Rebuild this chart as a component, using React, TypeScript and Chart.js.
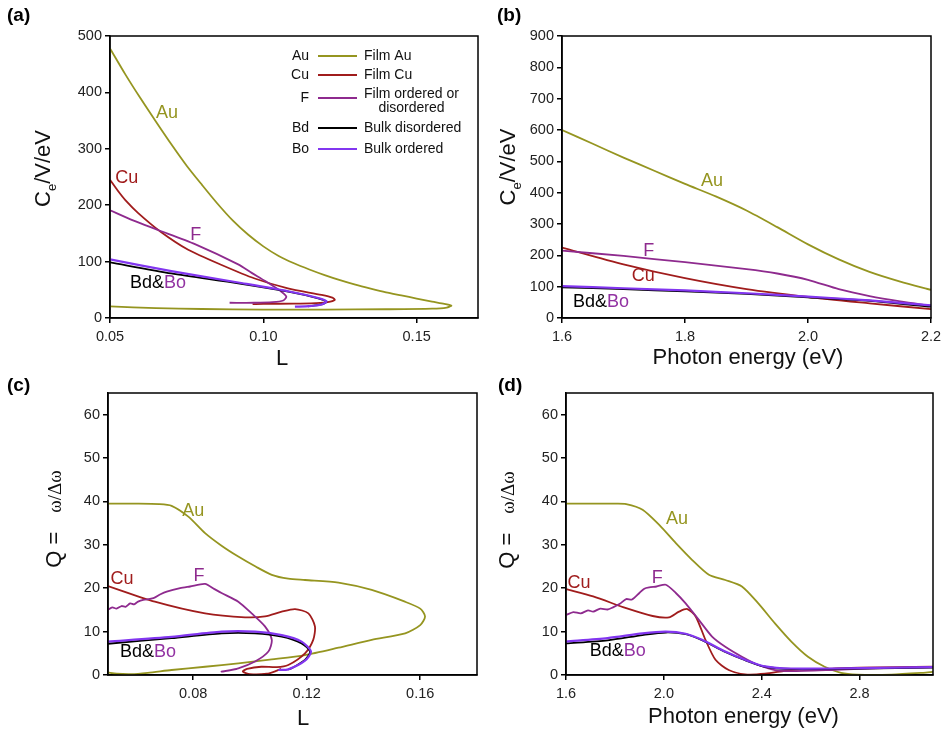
import React, { useEffect, useRef } from "react";
import { Chart, registerables } from "chart.js";

Chart.register(...registerables);

const FONT = '"Liberation Sans", Arial, Helvetica, sans-serif';
const SERIF = '"Liberation Serif", "Times New Roman", serif';

const COL_AU = "#959520";
const COL_CU = "#a01c1c";
const COL_F = "#8e2a8e";
const COL_BD = "#000000";
const COL_BO = "#8236f0";
const COL_BO_TEXT = "#9232a2";

// ---------------- Panel (a): C_e/V/eV vs L ----------------
const aXTicks = [0.05, 0.1, 0.15];
const aYTicks = [0, 100, 200, 300, 400, 500];
const aAuL = [0.05, 0.055, 0.06, 0.065, 0.07, 0.075, 0.08, 0.085, 0.09, 0.095, 0.1, 0.105, 0.11, 0.115, 0.12, 0.125, 0.13, 0.135, 0.14, 0.145, 0.15, 0.155, 0.159, 0.1613, 0.1598, 0.155, 0.14, 0.12, 0.1, 0.08, 0.065, 0.05];
const aAuC = [478, 432, 389, 348, 308, 270, 236, 203, 173, 148, 127, 110, 97, 86, 76, 67, 59, 52, 45.5, 40, 34.5, 29, 25, 22, 18.5, 16.5, 15.5, 15, 15, 16, 17.5, 20.5];
const aCuL = [0.05, 0.0525, 0.055, 0.0592, 0.0665, 0.0755, 0.0864, 0.0972, 0.108, 0.119, 0.1225, 0.1233, 0.121, 0.117, 0.11, 0.1, 0.0965];
const aCuC = [245, 226, 209, 186, 153, 121, 94, 70, 52.6, 40.8, 36, 32, 28, 26.5, 25.5, 25, 24.5];
const aFL = [0.05, 0.0575, 0.0657, 0.0777, 0.0918, 0.0962, 0.1005, 0.1059, 0.1075, 0.1065, 0.103, 0.097, 0.089];
const aFC = [191, 173, 156, 131, 95, 80, 66, 46.7, 38, 31, 28, 27, 27];
const aBdL = [0.05, 0.07, 0.0918, 0.1081, 0.1179, 0.1206, 0.119, 0.1145];
const aBdC = [98.7, 79, 61.5, 46.7, 35, 29, 24, 20.5];
const aBoL = [0.05, 0.07, 0.0918, 0.1081, 0.1179, 0.1206, 0.119, 0.115, 0.1103];
const aBoC = [104, 83, 63, 47.5, 35.5, 29.5, 24, 21, 20];

// ---------------- Panel (b): C_e/V/eV vs photon energy ----------------
const bXTicks = [1.6, 1.8, 2.0, 2.2];
const bYTicks = [0, 100, 200, 300, 400, 500, 600, 700, 800, 900];
const bAuE = [1.6, 1.65, 1.7, 1.75, 1.8, 1.85, 1.9, 1.95, 2.0, 2.05, 2.1, 2.15, 2.2];
const bAuC = [600, 556, 512, 470, 428, 388, 343, 290, 235, 187, 147, 116, 90];
const bCuE = [1.6, 1.7, 1.8, 1.9, 2.0, 2.1, 2.2];
const bCuC = [225, 171, 127, 92, 67, 47, 28];
const bFE = [1.6, 1.7, 1.8, 1.9, 1.95, 2.0, 2.05, 2.1, 2.15, 2.2];
const bFC = [215, 198, 178, 156, 142, 122, 92, 70, 53, 39];
const bBdE = [1.6, 1.7, 1.8, 1.9, 2.0, 2.1, 2.2];
const bBdC = [98, 92, 85, 77, 66, 55, 36];
const bBoE = [1.6, 1.7, 1.8, 1.9, 2.0, 2.1, 2.2];
const bBoC = [102, 95, 88, 79, 68, 56, 40];

// ---------------- Panel (c): Q vs L ----------------
const cXTicks = [0.08, 0.12, 0.16];
const cYTicks = [0, 10, 20, 30, 40, 50, 60];
const cAuL = [0.05, 0.06, 0.068, 0.0724, 0.0783, 0.0842, 0.09, 0.0959, 0.102, 0.1077, 0.1135, 0.1194, 0.1312, 0.1429, 0.1546, 0.16, 0.1617, 0.16, 0.1547, 0.1429, 0.1312, 0.1194, 0.1077, 0.0959, 0.0842, 0.0724, 0.064, 0.0583, 0.053, 0.05];
const cAuQ = [39.5, 39.5, 39.4, 39.0, 36.5, 32.7, 29.8, 27.3, 25.0, 23.1, 22.2, 21.9, 21.3, 19.6, 16.9, 15.3, 13.5, 11.5, 9.6, 8.1, 6.3, 4.6, 3.6, 2.7, 1.9, 1.15, 0.5, 0.2, 0.3, 0.6];
const cCuL = [0.05, 0.0665, 0.0842, 0.0983, 0.1053, 0.1112, 0.1159, 0.1206, 0.1229, 0.1223, 0.1194, 0.1135, 0.1095, 0.104, 0.099, 0.0975, 0.1, 0.106, 0.1095, 0.111];
const cCuQ = [20.5, 16.9, 14.2, 13.3, 13.5, 14.6, 15.2, 14.2, 11.2, 8.1, 5.0, 2.3, 1.8, 1.9, 1.4, 0.8, 0.2, 0.3, 1.0, 1.4];
const cFL = [0.05, 0.0515, 0.053, 0.0548, 0.0562, 0.0578, 0.0592, 0.0606, 0.0624, 0.066, 0.0685, 0.0707, 0.0754, 0.0789, 0.0842, 0.0875, 0.09, 0.0959, 0.1006, 0.1053, 0.1077, 0.1065, 0.1018, 0.0959, 0.09, 0.0925, 0.0955];
const cFQ = [15.0, 15.6, 15.3, 15.9, 15.7, 16.5, 16.3, 16.9, 17.3, 17.7, 18.6, 19.2, 20.0, 20.4, 21.0, 19.8, 18.9, 16.9, 14.2, 11.2, 8.1, 5.4, 3.1, 1.55, 0.8, 1.0, 1.4];
const cBdL = [0.05, 0.0724, 0.09, 0.1018, 0.1112, 0.1182, 0.1212, 0.1194, 0.1147, 0.1135];
const cBdQ = [7.2, 8.5, 9.6, 9.6, 8.85, 7.3, 5.4, 3.5, 1.55, 1.3];
const cBoL = [0.05, 0.0724, 0.09, 0.1018, 0.1112, 0.1182, 0.1215, 0.1194, 0.1135, 0.11];
const cBoQ = [7.7, 8.8, 10.0, 10.0, 9.2, 7.7, 5.4, 3.3, 1.3, 1.15];

// ---------------- Panel (d): Q vs photon energy ----------------
const dXTicks = [1.6, 2.0, 2.4, 2.8];
const dYTicks = [0, 10, 20, 30, 40, 50, 60];
const dAuE = [1.6, 1.7, 1.8, 1.846, 1.913, 1.981, 2.049, 2.116, 2.184, 2.251, 2.319, 2.386, 2.454, 2.521, 2.589, 2.657, 2.724, 2.79, 2.93, 3.06, 3.1];
const dAuQ = [39.5, 39.5, 39.5, 39.4, 38.1, 34.6, 30.4, 26.5, 23.1, 21.9, 20.4, 16.5, 11.9, 7.7, 4.2, 1.9, 0.5, 0.1, 0.1, 0.5, 0.7];
const dCuE = [1.6, 1.711, 1.846, 1.954, 2.021, 2.062, 2.096, 2.13, 2.17, 2.211, 2.265, 2.332, 2.413, 2.52, 2.657, 2.8, 3.1];
const dCuQ = [19.8, 18.1, 15.4, 13.6, 13.3, 14.6, 15.2, 13.5, 8.1, 3.5, 1.15, 0.15, 0.3, 1.15, 1.4, 1.7, 1.9];
const dFE = [1.6, 1.63, 1.66, 1.69, 1.711, 1.74, 1.77, 1.792, 1.82, 1.846, 1.87, 1.9, 1.92, 1.94, 1.97, 2.008, 2.049, 2.089, 2.143, 2.197, 2.251, 2.319, 2.386, 2.454, 2.52, 2.7, 2.9, 3.1];
const dFQ = [13.8, 14.5, 14.2, 14.9, 14.6, 15.3, 15.1, 15.6, 16.4, 17.5, 17.4, 18.9, 19.9, 20.2, 20.4, 20.8, 18.9, 16.5, 12.7, 8.85, 6.5, 4.2, 2.3, 1.15, 0.9, 1.2, 1.6, 1.8];
const dBdE = [1.6, 1.77, 1.913, 2.008, 2.089, 2.156, 2.251, 2.332, 2.413, 2.52, 2.8, 3.1];
const dBdQ = [7.3, 8.0, 9.2, 9.8, 9.4, 8.0, 5.3, 3.4, 1.9, 1.4, 1.5, 1.7];
const dBoE = [1.6, 1.77, 1.913, 2.008, 2.089, 2.156, 2.251, 2.332, 2.413, 2.52, 2.8, 3.1];
const dBoQ = [7.7, 8.5, 9.6, 10.0, 9.5, 8.1, 5.4, 3.5, 2.0, 1.5, 1.6, 1.8];

// ---------------- Legend texts (panel a) ----------------
const legendKeys = ["Au", "Cu", "F", "Bd", "Bo"];
const legendTexts = [["Film Au"], ["Film Cu"], ["Film ordered or", "disordered"], ["Bulk disordered"], ["Bulk ordered"]];
const legendColors = [COL_AU, COL_CU, COL_F, COL_BD, COL_BO];

type Series = { name: string; xs: number[]; ys: number[]; color: string; width: number };
type Label = { parts: { t: string; c: string }[]; x: number; y: number; align: CanvasTextAlign };
type TitlePart = { t: string; font: string; dy?: number; gap?: number };

type PanelCfg = {
  left: number; top: number; width: number; height: number;
  area: { left: number; top: number; right: number; bottom: number };
  xMin: number; xMax: number; xTicks: number[]; xDec: number;
  yMin: number; yMax: number; yTicks: number[];
  series: Series[];
  labels: Label[];
  letter: string; letterPos: [number, number];
  xTitle: string; xTitlePos: [number, number];
  yTitle: TitlePart[]; yTitlePos: [number, number];
  legend?: boolean;
};

const makeSeries = (xs: number[][], ys: number[][]): Series[] => {
  // order: Bo first so it is drawn on top
  const names = ["Bo", "Bd", "F", "Cu", "Au"];
  const colors = [COL_BO, COL_BD, COL_F, COL_CU, COL_AU];
  const widths = [2.2, 1.8, 1.8, 1.8, 1.8];
  return names.map((n, i) => ({ name: n, xs: xs[i], ys: ys[i], color: colors[i], width: widths[i] }));
};

const lbl = (t: string, c: string, x: number, y: number): Label => ({ parts: [{ t, c }], x, y, align: "center" });
const bdbo = (x: number, y: number): Label => ({ parts: [{ t: "Bd&", c: "#000" }, { t: "Bo", c: COL_BO_TEXT }], x, y, align: "left" });

const ceTitle: TitlePart[] = [
  { t: "C", font: `22px ${FONT}` },
  { t: "e", font: `13px ${FONT}`, dy: 6 },
  { t: "/V/eV", font: `22px ${FONT}` },
];
const qTitle: TitlePart[] = [
  { t: "Q =", font: `22px ${FONT}` },
  { t: "ω/Δω", font: `19px ${SERIF}`, gap: 19 },
];

const panels: PanelCfg[] = [
  {
    left: 0, top: 0, width: 480, height: 370,
    area: { left: 110, top: 36, right: 478, bottom: 318 },
    xMin: 0.05, xMax: 0.17, xTicks: aXTicks, xDec: 2,
    yMin: 0, yMax: 500, yTicks: aYTicks,
    series: makeSeries([aBoL, aBdL, aFL, aCuL, aAuL], [aBoC, aBdC, aFC, aCuC, aAuC]),
    labels: [lbl("Au", COL_AU, 0.0686, 363), lbl("Cu", COL_CU, 0.0555, 248), lbl("F", COL_F, 0.078, 147), bdbo(0.0565, 62)],
    letter: "(a)", letterPos: [7, 21],
    xTitle: "L", xTitlePos: [282, 365],
    yTitle: ceTitle, yTitlePos: [50, 168.5],
    legend: true,
  },
  {
    left: 480, top: 0, width: 462, height: 370,
    area: { left: 82, top: 36, right: 451, bottom: 318 },
    xMin: 1.6, xMax: 2.2, xTicks: bXTicks, xDec: 1,
    yMin: 0, yMax: 900, yTicks: bYTicks,
    series: makeSeries([bBoE, bBdE, bFE, bCuE, bAuE], [bBoC, bBdC, bFC, bCuC, bAuC]),
    labels: [lbl("Au", COL_AU, 1.844, 437), lbl("F", COL_F, 1.741, 214), lbl("Cu", COL_CU, 1.732, 134), bdbo(1.618, 51)],
    letter: "(b)", letterPos: [17, 21],
    xTitle: "Photon energy (eV)", xTitlePos: [268, 364],
    yTitle: ceTitle, yTitlePos: [35, 167],
  },
  {
    left: 0, top: 370, width: 480, height: 363,
    area: { left: 108, top: 23, right: 477, bottom: 305 },
    xMin: 0.05, xMax: 0.18, xTicks: cXTicks, xDec: 2,
    yMin: 0, yMax: 65, yTicks: cYTicks,
    series: makeSeries([cBoL, cBdL, cFL, cCuL, cAuL], [cBoQ, cBdQ, cFQ, cCuQ, cAuQ]),
    labels: [lbl("Au", COL_AU, 0.08, 37.8), lbl("Cu", COL_CU, 0.0549, 22.2), lbl("F", COL_F, 0.0821, 22.8), bdbo(0.0542, 5.3)],
    letter: "(c)", letterPos: [7, 21],
    xTitle: "L", xTitlePos: [303, 355],
    yTitle: qTitle, yTitlePos: [61, 149],
  },
  {
    left: 480, top: 370, width: 462, height: 363,
    area: { left: 86, top: 23, right: 453, bottom: 305 },
    xMin: 1.6, xMax: 3.1, xTicks: dXTicks, xDec: 1,
    yMin: 0, yMax: 65, yTicks: dYTicks,
    series: makeSeries([dBoE, dBdE, dFE, dCuE, dAuE], [dBoQ, dBdQ, dFQ, dCuQ, dAuQ]),
    labels: [lbl("Au", COL_AU, 2.054, 36), lbl("Cu", COL_CU, 1.653, 21.2), lbl("F", COL_F, 1.973, 22.4), bdbo(1.697, 5.5)],
    letter: "(d)", letterPos: [18, 21],
    xTitle: "Photon energy (eV)", xTitlePos: [263.5, 353],
    yTitle: qTitle, yTitlePos: [34, 150],
  },
];

function decorPlugin(cfg: PanelCfg) {
  return {
    id: "decor",
    afterDraw(chart: any) {
      const ctx: CanvasRenderingContext2D = chart.ctx;
      const a = chart.chartArea;
      ctx.save();
      // frame
      ctx.strokeStyle = "#000";
      ctx.lineWidth = 1.5;
      ctx.strokeRect(a.left, a.top, a.right - a.left, a.bottom - a.top);
      // panel letter
      ctx.fillStyle = "#000";
      ctx.font = `bold 19px ${FONT}`;
      ctx.textAlign = "left";
      ctx.textBaseline = "alphabetic";
      ctx.fillText(cfg.letter, cfg.letterPos[0], cfg.letterPos[1]);
      // x title
      ctx.font = `22px ${FONT}`;
      ctx.textAlign = "center";
      ctx.fillStyle = "#111";
      ctx.fillText(cfg.xTitle, cfg.xTitlePos[0], cfg.xTitlePos[1]);
      // y title (rotated, mixed fonts)
      ctx.save();
      ctx.translate(cfg.yTitlePos[0], cfg.yTitlePos[1]);
      ctx.rotate(-Math.PI / 2);
      ctx.textAlign = "left";
      let total = 0;
      const widths = cfg.yTitle.map((p) => {
        ctx.font = p.font;
        const w = ctx.measureText(p.t).width;
        total += w + (p.gap || 0);
        return w;
      });
      let x = -total / 2;
      cfg.yTitle.forEach((p, i) => {
        x += p.gap || 0;
        ctx.font = p.font;
        ctx.fillText(p.t, x, p.dy || 0);
        x += widths[i];
      });
      ctx.restore();
      // curve labels
      const xs = chart.scales.x;
      const ys = chart.scales.y;
      ctx.font = `18px ${FONT}`;
      ctx.textBaseline = "middle";
      for (const lab of cfg.labels) {
        const px = xs.getPixelForValue(lab.x);
        const py = ys.getPixelForValue(lab.y);
        const full = lab.parts.map((p) => p.t).join("");
        const fw = ctx.measureText(full).width;
        let cx = lab.align === "center" ? px - fw / 2 : px;
        ctx.textAlign = "left";
        for (const p of lab.parts) {
          ctx.fillStyle = p.c;
          ctx.fillText(p.t, cx, py);
          cx += ctx.measureText(p.t).width;
        }
      }
      // legend
      if (cfg.legend) {
        const rowsY = [56, 75, 98, 128, 149];
        ctx.font = `14px ${FONT}`;
        legendKeys.forEach((k, i) => {
          const y = rowsY[i];
          ctx.fillStyle = "#111";
          ctx.textAlign = "right";
          ctx.fillText(k, 309, y);
          ctx.strokeStyle = legendColors[i];
          ctx.lineWidth = 2;
          ctx.beginPath();
          ctx.moveTo(318, y);
          ctx.lineTo(357, y);
          ctx.stroke();
          ctx.textAlign = "left";
          const lines = legendTexts[i];
          if (lines.length === 1) {
            ctx.fillText(lines[0], 364, y);
          } else {
            const w1 = ctx.measureText(lines[0]).width;
            const w2 = ctx.measureText(lines[1]).width;
            ctx.fillText(lines[0], 364, y - 4);
            ctx.fillText(lines[1], 364 + (w1 - w2) / 2, y + 10);
          }
        });
      }
      ctx.restore();
    },
  };
}

function Panel({ cfg }: { cfg: PanelCfg }) {
  const ref = useRef<HTMLCanvasElement>(null);
  useEffect(() => {
    const canvas = ref.current;
    if (!canvas) return;
    const tickFont = { family: FONT, size: 14.5 };
    const grid = {
      display: true,
      drawOnChartArea: false,
      drawTicks: true,
      tickLength: 5,
      tickColor: "#000",
      tickWidth: 1.5,
      color: "#000",
      lineWidth: 1.5,
    };
    const border = { display: true, color: "#000", width: 1.5 };
    const zeroPad = (s: any) => {
      s.paddingLeft = 0;
      s.paddingRight = 0;
      s.paddingTop = 0;
      s.paddingBottom = 0;
    };
    const chart = new Chart(canvas, {
      type: "scatter",
      data: {
        datasets: cfg.series.map((s) => ({
          label: s.name,
          data: s.xs.map((x, i) => ({ x, y: s.ys[i] })),
          showLine: true,
          borderColor: s.color,
          backgroundColor: s.color,
          borderWidth: s.width,
          pointRadius: 0,
          pointHoverRadius: 0,
          tension: 0.25,
          fill: false,
        })),
      },
      options: {
        responsive: false,
        animation: false,
        devicePixelRatio: 1,
        events: [],
        layout: {
          autoPadding: false,
          padding: { left: 0, top: cfg.area.top, right: cfg.width - cfg.area.right, bottom: 0 },
        },
        plugins: { legend: { display: false }, tooltip: { enabled: false } },
        scales: {
          x: {
            type: "linear",
            min: cfg.xMin,
            max: cfg.xMax,
            afterFit: (s: any) => {
              s.height = cfg.height - cfg.area.bottom;
              zeroPad(s);
            },
            afterBuildTicks: (s: any) => {
              s.ticks = cfg.xTicks.map((v) => ({ value: v }));
            },
            ticks: {
              autoSkip: false,
              maxRotation: 0,
              padding: 5,
              color: "#222",
              font: tickFont,
              callback: (v: any) => Number(v).toFixed(cfg.xDec),
            },
            grid,
            border,
          },
          y: {
            type: "linear",
            min: cfg.yMin,
            max: cfg.yMax,
            afterFit: (s: any) => {
              s.width = cfg.area.left;
              zeroPad(s);
            },
            afterBuildTicks: (s: any) => {
              s.ticks = cfg.yTicks.map((v) => ({ value: v }));
            },
            ticks: {
              autoSkip: false,
              padding: 3,
              color: "#222",
              font: tickFont,
              callback: (v: any) => String(v),
            },
            grid,
            border,
          },
        },
      } as any,
      plugins: [decorPlugin(cfg)],
    });
    return () => chart.destroy();
  }, [cfg]);
  return (
    <canvas
      ref={ref}
      width={cfg.width}
      height={cfg.height}
      style={{ position: "absolute", left: cfg.left, top: cfg.top, width: cfg.width, height: cfg.height }}
    />
  );
}

export default function App() {
  return (
    <div style={{ position: "absolute", left: 0, top: 0, width: 942, height: 733, background: "#fff", overflow: "hidden" }}>
      {panels.map((p) => (
        <Panel key={p.letter} cfg={p} />
      ))}
    </div>
  );
}
